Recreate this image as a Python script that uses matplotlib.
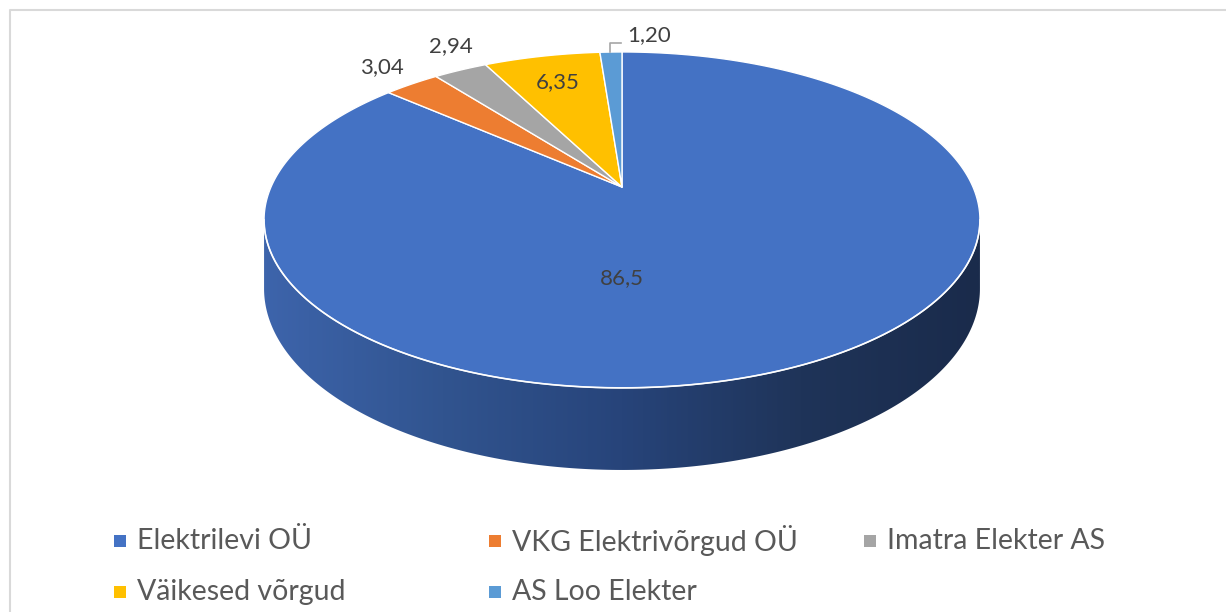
import numpy as np
import matplotlib
matplotlib.use("Agg")
import matplotlib.pyplot as plt
from matplotlib import patches
from matplotlib.colors import LinearSegmentedColormap

names = ["Elektrilevi OÜ", "VKG Elektrivõrgud OÜ", "Imatra Elekter AS",
         "Väikesed võrgud", "AS Loo Elekter"]
values = [86.5, 3.04, 2.94, 6.35, 1.20]
value_text = ["86,5", "3,04", "2,94", "6,35", "1,20"]
colors = ["#4472C4", "#ED7D31", "#A5A5A5", "#FFC000", "#5B9BD5"]

# pie geometry in pixels (perspective 3d pie)
cx, cy = 622, 187
a, b = 351, 161.5
k = 0.196
depth = 66

plt.rcParams['font.family'] = ['Lato', 'DejaVu Sans']


def proj(alpha, r=1.0):
    # alpha: degrees clockwise from 12 o'clock
    t = np.radians(alpha)
    X = r * np.sin(t)
    Y = -r * np.cos(t)
    w = 1 - k * Y
    return cx + a * X / w, cy + b * Y / w


fig = plt.figure(figsize=(12.26, 6.12), dpi=100)
ax = fig.add_axes([0, 0, 1, 1])
ax.set_xlim(0, 1226)
ax.set_ylim(612, 0)
ax.axis('off')

# frame of the chart area
ax.plot([9.5, 9.5, 1240], [640, 9.5, 9.5], color="#d9d9d9", lw=1.5)

# side of the cylinder (front part, only Elektrilevi is visible there)
ang_r = np.degrees(np.arccos(-k))
al = np.linspace(ang_r, 360 - ang_r, 300)
tx, ty = proj(al)
Yv = -np.cos(np.radians(al))
bx, by = tx, ty + depth / (1 - k * Yv)
side_x = np.concatenate([tx, bx[::-1]])
side_y = np.concatenate([ty, by[::-1]])
side = patches.Polygon(np.column_stack([side_x, side_y]), closed=True,
                       facecolor='none', edgecolor='none')
ax.add_patch(side)
grad = LinearSegmentedColormap.from_list(
    "side", ["#1a2b4b", "#1f3459", "#27447a", "#31548f", "#3d64ab"])
gx = np.linspace(1, 0, 400).reshape(1, -1)
im = ax.imshow(gx, cmap=grad, aspect='auto',
               extent=[side_x.min(), side_x.max(), side_y.max(), side_y.min()],
               zorder=1)
im.set_clip_path(side)

# top face wedges
start = 0.0
total = sum(values)
mids = []
for v, c in zip(values, colors):
    span = 360 * v / total
    arc = np.linspace(start, start + span, max(int(span * 2), 4))
    ex, ey = proj(arc)
    pts = np.column_stack([np.r_[cx, ex], np.r_[cy, ey]])
    ax.add_patch(patches.Polygon(pts, closed=True, facecolor=c,
                                 edgecolor='white', lw=1.0, zorder=2,
                                 joinstyle='round'))
    mids.append(start + span / 2)
    start += span

# rim highlight
ax.plot(tx, ty, color='white', lw=1.2, alpha=0.9, zorder=3)

# data labels
lab_col = "#404040"
fs = 16
ax.text(cx, 278, value_text[0], ha='center', va='center', fontsize=fs,
        color=lab_col, zorder=4)
for i, r, dx, dy in [(1, 1.22, 10, 2), (2, 1.2, 18, -4), (3, 0.75, -2, -3)]:
    x, y = proj(mids[i], r)
    ax.text(x + dx, y + dy, value_text[i], ha='center', va='center',
            fontsize=fs, color=lab_col, zorder=4)
# leader line for the smallest slice
x0, y0 = proj(mids[4], 1.0)
ax.plot([x0 - 1, x0 - 1, x0 + 10], [y0, y0 - 9, y0 - 9], color="#a6a6a6",
        lw=1.2, zorder=4)
ax.text(x0 + 16, y0 - 17, value_text[4], ha='left', va='center', fontsize=fs,
        color=lab_col, zorder=4)

# legend
for i, (n, c) in enumerate(zip(names, colors)):
    col, row = i % 3, i // 3
    lx = 114 + col * 375
    ly = 541 + row * 51
    ax.add_patch(patches.Rectangle((lx, ly - 6), 12, 12, facecolor=c,
                                   edgecolor='none'))
    ax.text(lx + 23, ly, n, ha='left', va='center', fontsize=20.5,
            color="#595959")

fig.savefig("out.png", dpi=100)
